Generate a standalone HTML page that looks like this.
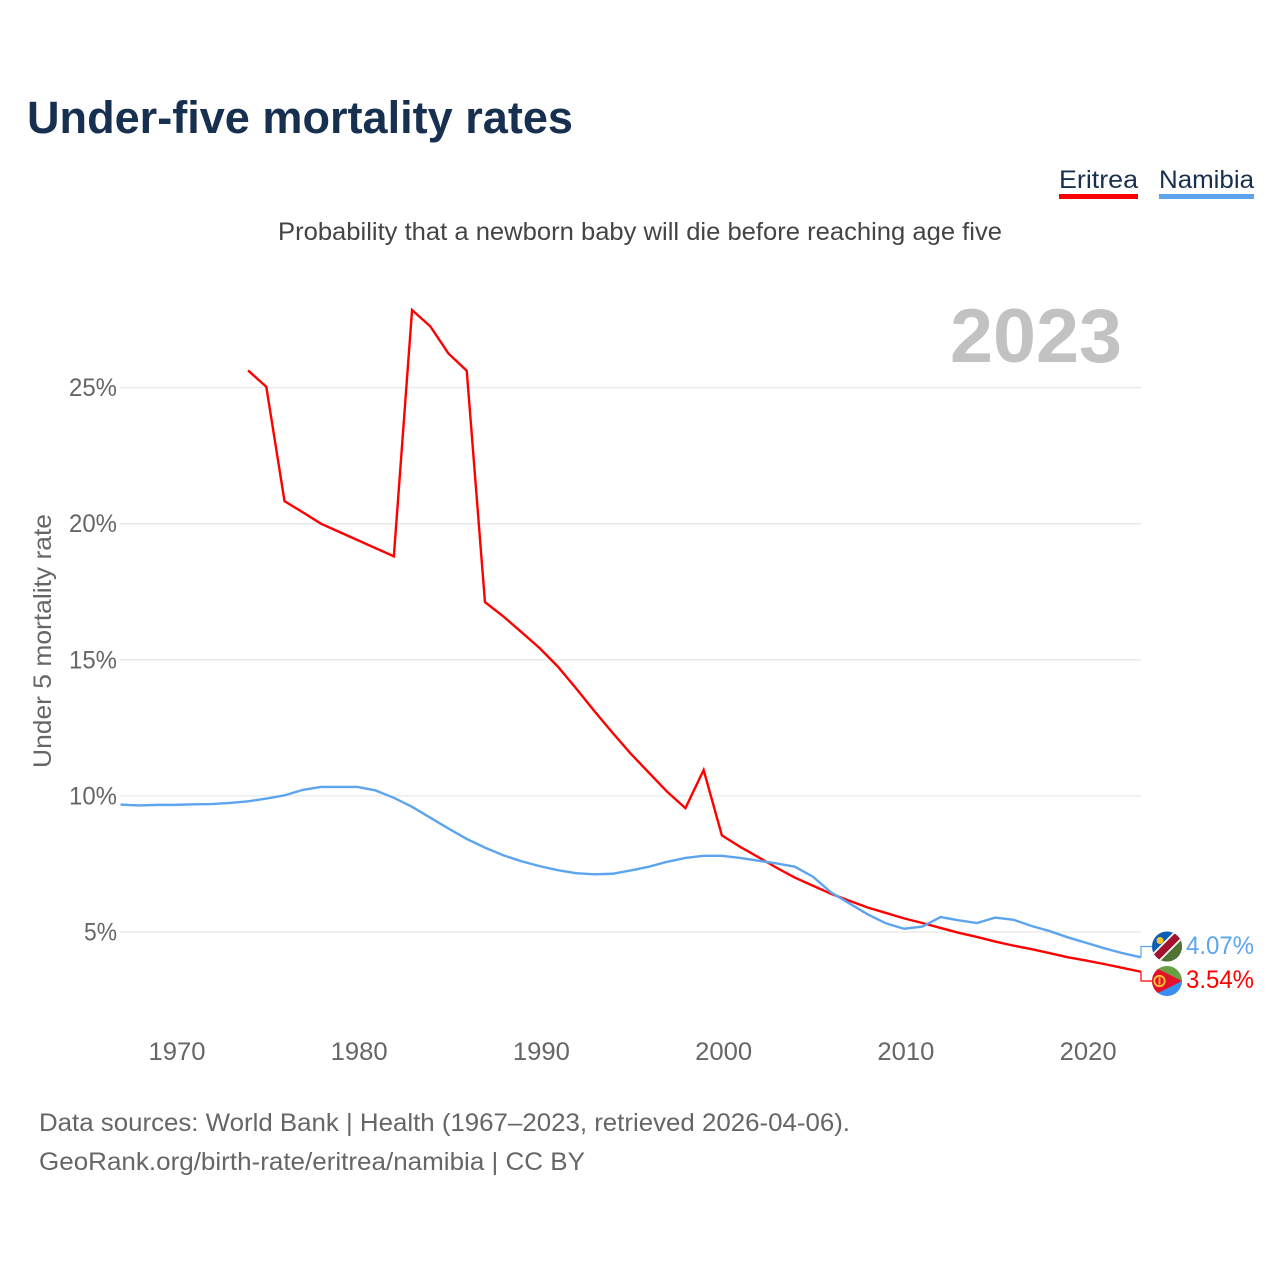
<!DOCTYPE html>
<html lang="en">
<head>
<meta charset="utf-8">
<title>Under-five mortality rates</title>
<style>
html,body{margin:0;padding:0;background:#fff;width:1280px;height:1280px;overflow:hidden}
svg{display:block}
text{font-family:"Liberation Sans",sans-serif}
</style>
</head>
<body>
<svg id="chart" xmlns="http://www.w3.org/2000/svg" width="1280" height="1280" viewBox="0 0 1280 1280">
  <defs>
    <clipPath id="clip-na"><circle cx="1167" cy="946.5" r="15"/></clipPath>
    <clipPath id="clip-er"><circle cx="1167" cy="981" r="15"/></clipPath>
  </defs>
  <rect width="1280" height="1280" fill="#fff"/>
  <text x="27" y="133" font-size="45" font-weight="700" fill="#17304f" textLength="546" lengthAdjust="spacingAndGlyphs">Under-five mortality rates</text>
  <text x="278" y="240" font-size="25" fill="#444" textLength="724" lengthAdjust="spacingAndGlyphs">Probability that a newborn baby will die before reaching age five</text>

  <g>
    <text x="1059" y="188" font-size="25" fill="#17304f" textLength="79" lengthAdjust="spacingAndGlyphs">Eritrea</text>
    <rect x="1059" y="194" width="79" height="5" fill="#ff0000"/>
  </g>
  <g>
    <text x="1159" y="188" font-size="25" fill="#17304f" textLength="95" lengthAdjust="spacingAndGlyphs">Namibia</text>
    <rect x="1159" y="194" width="95" height="5" fill="#5ca5ee"/>
  </g>

  <text x="950" y="362" font-size="76" font-weight="700" fill="#c2c2c2" textLength="172" lengthAdjust="spacingAndGlyphs">2023</text>
  <text transform="translate(51,768) rotate(-90)" font-size="25" fill="#666" textLength="254" lengthAdjust="spacingAndGlyphs">Under 5 mortality rate</text>

  <g id="grid"></g>
  <g id="ticks"></g>
  <g id="series"></g>

  <g clip-path="url(#clip-na)">
    <rect x="1152" y="931.5" width="30" height="30" fill="#0b5fb5"/>
    <polygon points="1182,931.5 1182,961.5 1152,961.5" fill="#4f7431"/>
    <line x1="1152" y1="961.5" x2="1182" y2="931.5" stroke="#fff" stroke-width="11"/>
    <line x1="1152" y1="961.5" x2="1182" y2="931.5" stroke="#a3132f" stroke-width="7.5"/>
    <circle cx="1160" cy="940.5" r="3.5" fill="#f7c531"/>
  </g>
  <g clip-path="url(#clip-er)">
    <rect x="1152" y="966" width="30" height="15" fill="#6aa044"/>
    <rect x="1152" y="981" width="30" height="15" fill="#3a8ef0"/>
    <polygon points="1152,966 1182,981 1152,996" fill="#e3112c"/>
    <circle cx="1159.5" cy="981" r="5.2" fill="none" stroke="#f7c531" stroke-width="1.8"/>
    <line x1="1159.5" y1="977.5" x2="1159.5" y2="984.5" stroke="#f7c531" stroke-width="1.8"/>
  </g>

  <text x="1186" y="954" font-size="25" fill="#5ca5ee" textLength="68" lengthAdjust="spacingAndGlyphs">4.07%</text>
  <text x="1186" y="988" font-size="25" fill="#ff0000" textLength="68" lengthAdjust="spacingAndGlyphs">3.54%</text>

  <text x="39" y="1131" font-size="25" fill="#666" textLength="811" lengthAdjust="spacingAndGlyphs">Data sources: World Bank | Health (1967–2023, retrieved 2026-04-06).</text>
  <text x="39" y="1170" font-size="25" fill="#666" textLength="546" lengthAdjust="spacingAndGlyphs">GeoRank.org/birth-rate/eritrea/namibia | CC BY</text>
</svg>
<script>
const eritreaStartYear = 1974;
const eritreaValues = [25.63,25.03,20.83,20.42,20.0,19.7,19.4,19.1,18.8,27.85,27.25,26.25,25.62,17.12,16.6,16.02,15.43,14.75,13.95,13.12,12.32,11.55,10.85,10.15,9.55,10.95,8.55,8.13,7.75,7.36,7.0,6.7,6.4,6.15,5.9,5.7,5.5,5.33,5.15,4.97,4.82,4.65,4.5,4.37,4.22,4.07,3.95,3.82,3.68,3.54];
const namibiaStartYear = 1967;
const namibiaValues = [9.68,9.65,9.67,9.67,9.69,9.7,9.74,9.8,9.9,10.02,10.22,10.33,10.33,10.33,10.2,9.93,9.6,9.2,8.8,8.42,8.1,7.82,7.6,7.42,7.27,7.16,7.12,7.14,7.26,7.4,7.58,7.72,7.8,7.8,7.72,7.62,7.52,7.4,7.03,6.45,6.05,5.65,5.32,5.12,5.2,5.55,5.43,5.33,5.53,5.45,5.22,5.03,4.8,4.6,4.4,4.22,4.07];
const yTickValues = [5,10,15,20,25];
const xTickYears = [1970,1980,1990,2000,2010,2020];

const NS = 'http://www.w3.org/2000/svg';
const xAxis = year => 120.5 + (year - 1967) * (1141 - 120.5) / 56;
const yAxis = value => 932 - (value - 5) * 27.22;

const grid = document.getElementById('grid');
const ticks = document.getElementById('ticks');
const series = document.getElementById('series');

yTickValues.forEach(v => {
  const line = document.createElementNS(NS, 'line');
  
  
  line.setAttribute('x1', 120);
  line.setAttribute('x2', 1141);
  line.setAttribute('y1', yAxis(v));
  line.setAttribute('y2', yAxis(v));
  line.setAttribute('stroke', '#e8e8e8');
  line.setAttribute('stroke-width', '1.3');
  grid.appendChild(line);

  const label = v + '%';
  const t = document.createElementNS(NS, 'text');
  
  
  t.setAttribute('x', 117);
  t.setAttribute('y', yAxis(v) + 8.5);
  t.setAttribute('text-anchor', 'end');
  t.setAttribute('font-size', '25');
  t.setAttribute('fill', '#666');
  t.setAttribute('textLength', 15 * label.length + 3);
  t.setAttribute('lengthAdjust', 'spacingAndGlyphs');
  t.textContent = label;
  ticks.appendChild(t);
});

xTickYears.forEach(y => {
  const t = document.createElementNS(NS, 'text');
  
  
  t.setAttribute('x', xAxis(y) + 1.8);
  t.setAttribute('y', 1060);
  t.setAttribute('text-anchor', 'middle');
  t.setAttribute('font-size', '25');
  t.setAttribute('fill', '#666');
  t.setAttribute('textLength', 57);
  t.setAttribute('lengthAdjust', 'spacingAndGlyphs');
  t.textContent = y;
  ticks.appendChild(t);
});

function pointsFor(startYear, values) {
  return values.map((v, i) => xAxis(startYear + i).toFixed(2) + ',' + yAxis(v).toFixed(2));
}

const eritreaPoints = pointsFor(eritreaStartYear, eritreaValues);
const eritreaLine = document.createElementNS(NS, 'polyline');


eritreaLine.setAttribute('points', eritreaPoints.join(' '));
eritreaLine.setAttribute('fill', 'none');
eritreaLine.setAttribute('stroke', '#ff0000');
eritreaLine.setAttribute('stroke-width', '2.4');
eritreaLine.setAttribute('stroke-linejoin', 'miter');
series.appendChild(eritreaLine);

const namibiaPoints = pointsFor(namibiaStartYear, namibiaValues);
const namibiaLine = document.createElementNS(NS, 'polyline');


namibiaLine.setAttribute('points', namibiaPoints.join(' '));
namibiaLine.setAttribute('fill', 'none');
namibiaLine.setAttribute('stroke', '#5ca5ee');
namibiaLine.setAttribute('stroke-width', '2.4');
series.appendChild(namibiaLine);

const eritreaLast = eritreaValues[eritreaValues.length - 1];
const eritreaConnector = document.createElementNS(NS, 'polyline');


eritreaConnector.setAttribute('points', '1141,' + yAxis(eritreaLast) + ' 1141,981 1152,981');
eritreaConnector.setAttribute('fill', 'none');
eritreaConnector.setAttribute('stroke', '#ff0000');
eritreaConnector.setAttribute('stroke-width', '1.2');
series.appendChild(eritreaConnector);

const namibiaLast = namibiaValues[namibiaValues.length - 1];
const namibiaConnector = document.createElementNS(NS, 'polyline');


namibiaConnector.setAttribute('points', '1141,' + yAxis(namibiaLast) + ' 1141,946.5 1152,946.5');
namibiaConnector.setAttribute('fill', 'none');
namibiaConnector.setAttribute('stroke', '#5ca5ee');
namibiaConnector.setAttribute('stroke-width', '1.2');
series.appendChild(namibiaConnector);
</script>
</body>
</html>
